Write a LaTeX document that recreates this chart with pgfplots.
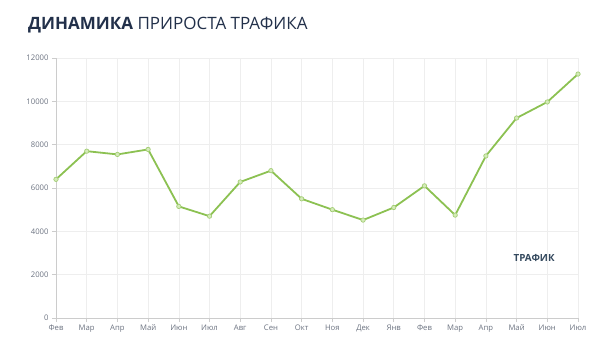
\documentclass[border=0pt]{standalone}
\usepackage{pgfplots}
\pgfplotsset{compat=1.18}
\usepackage{fontspec}
\setmainfont{Open Sans}
\definecolor{navy}{HTML}{22304A}
\definecolor{tnavy}{HTML}{34495E}
\definecolor{lineg}{HTML}{8CC152}
\definecolor{markf}{HTML}{D4EBB8}
\definecolor{gridc}{HTML}{EEEEEE}
\definecolor{axc}{HTML}{CCCCCC}
\definecolor{tickc}{HTML}{6B7280}
\begin{document}
\begin{tikzpicture}[x=1bp,y=1bp]
\useasboundingbox (-56,-41) rectangle (548,318);
\begin{axis}[
  at={(0,0)}, anchor=origin,
  scale only axis, width=522bp, height=260bp,
  xmin=0, xmax=17, ymin=0, ymax=12000,
  xtick={0,...,17},
  xticklabels={Фев,Мар,Апр,Май,Июн,Июл,Авг,Сен,Окт,Ноя,Дек,Янв,Фев,Мар,Апр,Май,Июн,Июл},
  ytick={0,2000,4000,6000,8000,10000,12000},
  scaled y ticks=false,
  /pgf/number format/assume math mode=true,
  yticklabel={\pgfmathprintnumber[fixed,1000 sep={}]{\tick}},
  ticklabel style={font=\fontsize{7.7bp}{9bp}\selectfont, text=tickc},
  xticklabel style={yshift=1bp},
  grid=major, major grid style={gridc, line width=0.6bp},
  axis x line*=bottom, axis y line*=left,
  axis line style={axc, line width=0.8bp, -},
  tick style={axc, line width=0.6bp},
  tick align=outside, major tick length=4bp,
  clip=false,
]
\addplot[lineg, line width=1.8bp, mark=*, mark size=2.2bp,
  mark options={fill=markf, draw=lineg!80, line width=0.7bp}]
  coordinates {
  (0,6400) (1,7700) (2,7550) (3,7780) (4,5150) (5,4700) (6,6280) (7,6800)
  (8,5500) (9,5000) (10,4520) (11,5100) (12,6100) (13,4750) (14,7480)
  (15,9230) (16,9970) (17,11260)
  };
\node[font=\fontsize{9.8bp}{11bp}\selectfont\bfseries, text=tnavy] at (axis cs:15.57,2770) {ТРАФИК};
\end{axis}
\node[anchor=base west, inner sep=0, font=\fontsize{17bp}{20bp}\selectfont, text=navy] at (-28,289) {\textbf{ДИНАМИКА} ПРИРОСТА ТРАФИКА};
\end{tikzpicture}
\end{document}
